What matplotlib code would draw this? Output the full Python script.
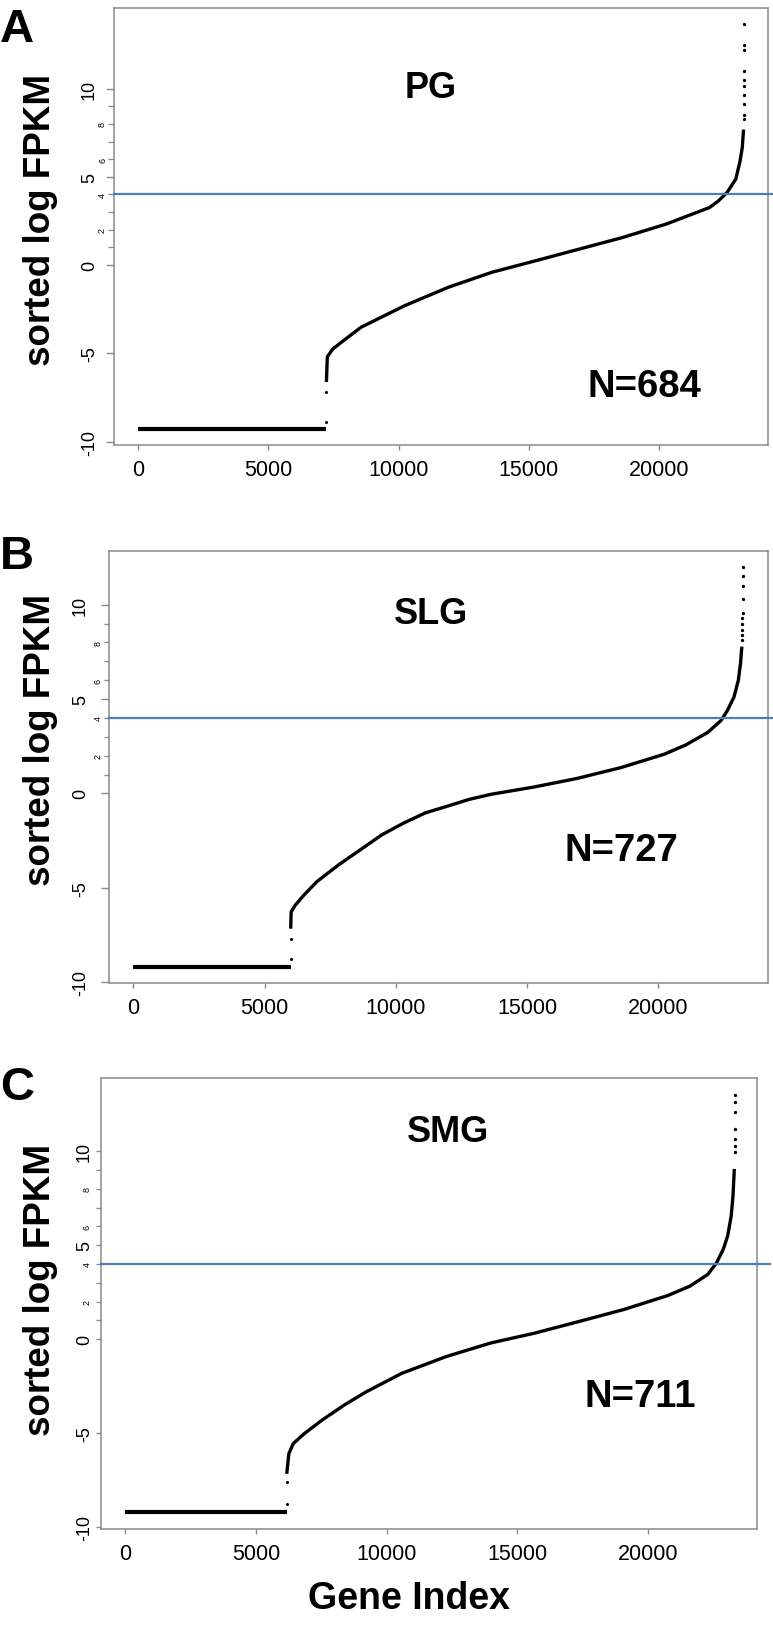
import matplotlib
matplotlib.use("Agg")
import matplotlib.pyplot as plt

W, H = 773, 1633

# ---- data ----
genes_total = 23250
flat_y = [-9.28, -9.20, -9.22]

pg_flat_end = 7225
pg_gap_y = [-8.9, -7.2]
pg_curve_x = [7225, 7260, 7474, 7893, 8561, 10233, 11905, 13577, 15249, 16921,
              18593, 20265, 21101, 21937, 22271, 22606, 22940, 23107, 23191, 23241]
pg_curve_y = [-6.63, -5.2, -4.75, -4.27, -3.52, -2.30, -1.26, -0.41, 0.24, 0.90,
              1.56, 2.32, 2.79, 3.26, 3.63, 4.11, 4.86, 5.89, 6.65, 7.68]
pg_top_x = [23246, 23250, 23254, 23258, 23261, 23264, 23267, 23270, 23272, 23275]
pg_top_y = [8.25, 8.53, 9.10, 9.66, 10.13, 10.51, 10.98, 12.2, 12.49, 13.65]

slg_flat_end = 5994
slg_gap_y = [-8.77, -7.7]
slg_curve_x = [5994, 6010, 6164, 6495, 6988, 7815, 8644, 9471, 10299, 11127, 11955,
               12783, 13611, 15267, 16923, 18578, 20234, 21062, 21890, 22387, 22636,
               22884, 23050, 23133, 23183]
slg_curve_y = [-7.17, -6.28, -5.93, -5.39, -4.68, -3.79, -2.99, -2.19, -1.57, -1.03, -0.68,
               -0.32, -0.05, 0.34, 0.80, 1.37, 2.08, 2.58, 3.24, 3.86, 4.40,
               5.11, 6.00, 6.89, 7.78]
slg_top_x = [23190, 23195, 23200, 23204, 23207, 23210, 23213, 23216, 23219, 23222]
slg_top_y = [8.13, 8.40, 8.67, 8.98, 9.31, 9.58, 10.3, 11.0, 11.5, 12.0]

smg_flat_end = 6176
smg_gap_y = [-8.77, -7.6]
smg_curve_x = [6180, 6261, 6430, 6854, 7533, 8381, 9230, 10587, 12284, 13980, 15677,
               17374, 19070, 20767, 21615, 22294, 22633, 22888, 23057, 23193, 23261, 23312]
smg_curve_y = [-7.17, -6.10, -5.56, -5.03, -4.31, -3.51, -2.80, -1.82, -0.93, -0.21, 0.32,
               0.94, 1.57, 2.32, 2.82, 3.44, 4.06, 4.78, 5.49, 6.56, 7.63, 9.06]
smg_top_x = [23320, 23325, 23330, 23335, 23340, 23345, 23350]
smg_top_y = [9.95, 10.3, 10.66, 11.19, 12.09, 12.62, 13.01]

cutoff = 4
tissues = ["PG", "SLG", "SMG"]
n_above = ["N=684", "N=727", "N=711"]
panel_letters = ["A", "B", "C"]
x_ticks = [0, 5000, 10000, 15000, 20000]
y_major = [-10, -5, 0, 5, 10]
y_minor = [1, 2, 3, 4, 6, 7, 8, 9]
y_minor_labels = ["", "2", "", "4", "6", "", "8", ""]

arial = ["Liberation Sans", "DejaVu Sans"]

fig = plt.figure(figsize=(W / 100, H / 100), dpi=100)


def fx(px):
    return px / W


def fy(py):
    return 1 - py / H


# axes boxes in pixels: left, top, right, bottom
boxes = [(114, 9, 768, 446), (109, 552, 768, 984), (101, 1079, 757, 1530)]
# (major len, major pad, minor len, minor pad) in points
tick_sty = [(5.8, 5.8, 4.3, 0.7), (5.8, 8.6, 3.6, 1.0), (3.6, 2.2, 3.6, 2.9)]
line_end = [1.008, 1.008, 1.02]
title_pos = [(431, 88), (431, 615), (448, 1132)]
n_pos = [(644, 387), (621, 851), (640, 1397)]
ylab_pos = [(41, 220), (41, 740), (41, 1290)]
letter_pos = [(0, 8), (0, 535), (0, 1066)]

series = [
    (pg_flat_end, pg_gap_y, pg_curve_x, pg_curve_y, pg_top_x, pg_top_y),
    (slg_flat_end, slg_gap_y, slg_curve_x, slg_curve_y, slg_top_x, slg_top_y),
    (smg_flat_end, smg_gap_y, smg_curve_x, smg_curve_y, smg_top_x, smg_top_y),
]

for i in range(3):
    l, t, r, b = boxes[i]
    ax = fig.add_axes([fx(l), fy(b), (r - l) / W, (b - t) / H])
    flat_end, gap_y, cx, cy, tx, ty = series[i]

    ax.plot([0, flat_end], [flat_y[i], flat_y[i]], color="black", lw=3.0,
            solid_capstyle="butt")
    ax.plot([flat_end] * len(gap_y), gap_y, "o", color="black", ms=2.2, mew=0)
    ax.plot(cx, cy, color="black", lw=2.4, solid_capstyle="butt")
    ax.plot(tx, ty, "o", color="black", ms=2.4, mew=0)

    ax.margins(x=0.04, y=0.04)
    ax.set_xlim(-0.04 * genes_total, 1.04 * genes_total)
    ax.axhline(cutoff, xmin=0, xmax=line_end[i], color="#4a7ebb", lw=1.6,
               clip_on=False, zorder=5)

    for s in ax.spines.values():
        s.set_color("#8a8a8a")
        s.set_linewidth(1.1)

    ax.set_xticks(x_ticks)
    ax.set_xticklabels([str(v) for v in x_ticks], family=arial, fontsize=15.5)
    ax.tick_params(axis="x", length=3.6, pad=6.5, color="#8a8a8a", width=1.0)

    ml, mp, nl, npad = tick_sty[i]
    ax.set_yticks(y_major)
    ax.set_yticklabels([str(v) for v in y_major], family=arial, fontsize=13,
                       rotation=90, va="center")
    ax.set_yticks(y_minor, labels=y_minor_labels, minor=True)
    for lab in ax.get_yticklabels(minor=True):
        lab.set_rotation(90)
        lab.set_fontsize(6.5)
        lab.set_family(arial)
        lab.set_va("center")
    ax.tick_params(axis="y", which="major", length=ml, pad=mp, color="#8a8a8a", width=1.0)
    ax.tick_params(axis="y", which="minor", length=nl, pad=npad, color="#8a8a8a", width=0.9)

    fig.text(fx(title_pos[i][0]), fy(title_pos[i][1]), tissues[i], family=arial,
             weight="bold", fontsize=26, ha="center", va="center")
    fig.text(fx(n_pos[i][0]), fy(n_pos[i][1]), n_above[i], family=arial,
             weight="bold", fontsize=27.5, ha="center", va="center")
    fig.text(fx(ylab_pos[i][0]), fy(ylab_pos[i][1]), "sorted log FPKM", family=arial,
             weight="bold", fontsize=26.5, rotation=90, ha="center", va="center")
    fig.text(fx(letter_pos[i][0]), fy(letter_pos[i][1]), panel_letters[i], family=arial,
             weight="bold", fontsize=34, ha="left", va="top")

fig.text(fx(409), fy(1599), "Gene Index", family=arial, weight="bold",
         fontsize=27, ha="center", va="center")

fig.savefig("out.png", dpi=100)
